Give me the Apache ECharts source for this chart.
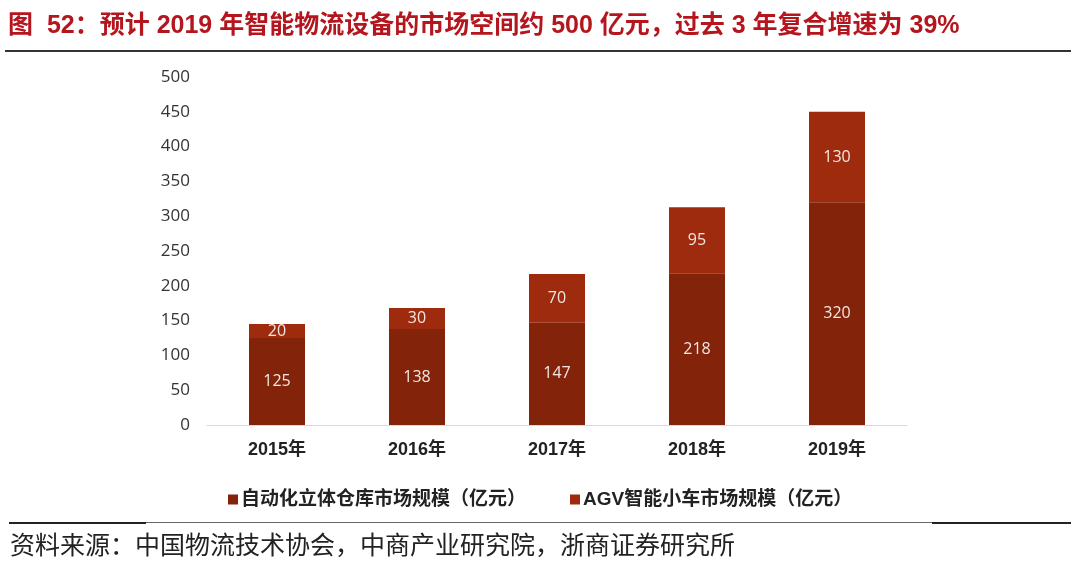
<!DOCTYPE html>
<html><head><meta charset="utf-8">
<script src="https://cdn.jsdelivr.net/npm/echarts@6/dist/echarts.min.js"></script>
<style>html,body{margin:0;padding:0;background:#fff}#c{width:1080px;height:568px}</style>
</head><body><div id="c"></div>
<script>
const categories = ['2015年','2016年','2017年','2018年','2019年'];
const warehouseValues = [125, 138, 147, 218, 320];
const agvValues = [20, 30, 70, 95, 130];
const seriesNames = ['自动化立体仓库市场规模（亿元）','AGV智能小车市场规模（亿元）'];
const titleText = '图  52：预计 2019 年智能物流设备的市场空间约 500 亿元，过去 3 年复合增速为 39%';
const sourceText = '资料来源：中国物流技术协会，中商产业研究院，浙商证券研究所';

const chart = echarts.init(document.getElementById('c'));
const cjk = '"Liberation Sans","Noto Sans CJK SC",sans-serif';
const labelStyle = {show:true, position:'inside', color:'#F3E6E2', fontSize:16, fontFamily:'"Open Sans","Noto Sans CJK SC",sans-serif'};
chart.setOption({
  animation:false,
  textStyle:{fontFamily:cjk},
  grid:{left:207, right:173, top:77, bottom:143},
  legend:{
    top:485, left:223, itemGap:44, itemWidth:10, itemHeight:10, icon:'rect',
    textStyle:{fontSize:19, fontWeight:'bold', color:'#222', fontFamily:cjk, padding:[0,0,0,-2]},
    data:seriesNames
  },
  xAxis:{
    type:'category', data:categories,
    axisLine:{lineStyle:{color:'#D9D9D9', width:1}},
    axisTick:{show:false},
    axisLabel:{fontSize:18, fontWeight:'bold', color:'#222', margin:16, fontFamily:cjk}
  },
  yAxis:{
    type:'value', min:0, max:500, interval:50,
    axisLine:{show:false}, axisTick:{show:false}, splitLine:{show:false},
    axisLabel:{fontSize:17, color:'#333', margin:17, fontFamily:'"Open Sans",sans-serif'}
  },
  series:[
    {name:seriesNames[0], type:'bar', stack:'s', data:warehouseValues, barWidth:56,
     itemStyle:{color:'#83230A'}, label:labelStyle},
    {name:seriesNames[1], type:'bar', stack:'s', data:agvValues, barWidth:56,
     itemStyle:{color:'#9F2B0F'}, label:labelStyle}
  ],
  graphic:[
    {type:'text', left:8, top:14, style:{text:titleText, fill:'#B5161E', font:'bold 25px '+cjk}},
    {type:'rect', shape:{x:5, y:50, width:1066, height:2}, style:{fill:'#333'}},
    {type:'rect', shape:{x:9, y:522, width:1062, height:1}, style:{fill:'#666'}},
    {type:'rect', shape:{x:9, y:522, width:137, height:2}, style:{fill:'#222'}},
    {type:'rect', shape:{x:932, y:522, width:139, height:2}, style:{fill:'#222'}},
    {type:'text', left:10, top:532, style:{text:sourceText, fill:'#222', font:'25px "Noto Sans CJK SC",sans-serif'}}
  ]
});
</script></body></html>
